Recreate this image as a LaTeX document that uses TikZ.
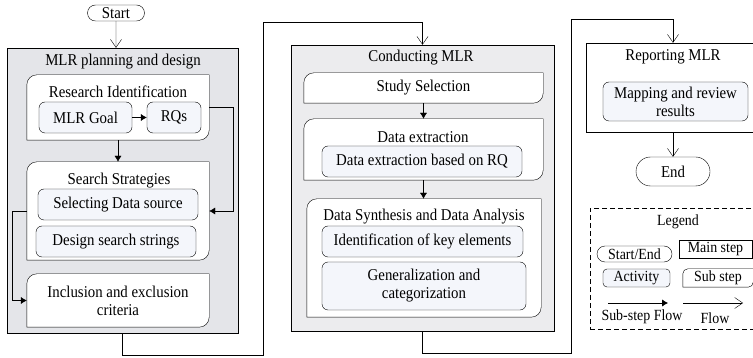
\documentclass[tikz,border=0pt]{standalone}
\usepackage{fontspec}
\setmainfont{Liberation Serif}[FakeStretch=0.9]
\usepackage{tikz}
\usetikzlibrary{shapes.misc}
\usetikzlibrary{arrows.meta}
\pgfdeclarelayer{bg}
\pgfsetlayers{bg,main}
\definecolor{planfill}{RGB}{228,229,233}
\definecolor{condfill}{RGB}{236,236,238}
\definecolor{actfill}{RGB}{244,246,251}

\begin{document}
\begin{tikzpicture}[x=1pt,y=1pt,line width=1.1pt,
  every node/.style={font=\fontsize{16.5}{18}\selectfont,inner sep=0pt,align=center},
  legfont/.style={font=\fontsize{15.5}{17}\selectfont},
  term/.style={rounded rectangle,draw},
  mainstep/.style={rectangle,draw},
  substep/.style={rectangle},
  act/.style={rectangle,rounded corners=6pt,draw,fill=actfill},
  flow/.style={-{Straight Barb[length=8pt,width=11pt]}},
  subflow/.style={-{Latex[length=6pt,width=7pt]}}]
\useasboundingbox (0,0) rectangle (753,-358);
% main steps
\begin{pgfonlayer}{bg}
\node[mainstep,fill=planfill,minimum width=231pt,minimum height=285pt] (plan) at (122.5,-190.5) {};
\node[mainstep,fill=condfill,minimum width=263pt,minimum height=286pt] (conduct) at (422.5,-188) {};
\node[mainstep,fill=white,minimum width=174pt,minimum height=89pt] (report) at (673,-87.5) {};
\node[draw,dash pattern=on 5pt off 3pt,minimum width=176pt,minimum height=121pt] (legend) at (678,-268.5) {};
\end{pgfonlayer}
\node (plantitle) at (123,-62) {MLR planning and design};
\node (condtitle) at (421,-58) {Conducting MLR};
\node (reporttitle) at (673,-57) {Reporting MLR};
\node[term,minimum width=57pt,minimum height=16pt] (start) at (116,-13) {Start};
\node[term,minimum width=74pt,minimum height=29pt] (end) at (673,-171.5) {End};
% sub steps
\node[substep,minimum width=182pt,minimum height=65pt] (resid) at (118,-107.5) {};
\node[substep,minimum width=182pt,minimum height=98pt] (search) at (118,-211) {};
\node[substep,minimum width=182pt,minimum height=53pt] (incl) at (118,-300.5) {Inclusion and exclusion\\criteria};
\node[substep,minimum width=239pt,minimum height=30pt] (studysel) at (423.5,-88) {Study Selection};
\node[substep,minimum width=239pt,minimum height=61pt] (dataext) at (423.5,-149.5) {};
\node[substep,minimum width=234pt,minimum height=118pt] (datasyn) at (424,-258) {};
\node (residtitle) at (118,-92) {Research Identification};
\node (searchtitle) at (119,-181) {Search Strategies};
\node (dataexttitle) at (423,-137) {Data extraction};
\node (datasyntitle) at (424,-217) {Data Synthesis and Data Analysis};
% activities
\node[act,minimum width=93pt,minimum height=31pt] (goal) at (85.5,-117.5) {MLR Goal};
\node[act,minimum width=54pt,minimum height=31pt] (rqs) at (174,-117.5) {RQs};
\node[act,minimum width=160pt,minimum height=31pt] (selds) at (118,-204.5) {Selecting Data source};
\node[act,minimum width=160pt,minimum height=31pt] (design) at (116,-241.5) {Design search strings};
\node[act,minimum width=200pt,minimum height=31pt] (dataq) at (422,-161.5) {Data extraction based on RQ};
\node[act,minimum width=201pt,minimum height=31pt] (keyel) at (422.5,-241.5) {Identification of key elements};
\node[act,minimum width=204pt,minimum height=48pt] (gencat) at (424,-286) {Generalization and\\categorization};
\node[act,minimum width=145pt,minimum height=39pt] (mapres) at (675.5,-101.5) {Mapping and review\\results};
% legend
\node[legfont] (legtitle) at (678,-222) {Legend};
\node[term,legfont,minimum width=75pt,minimum height=16pt] (legterm) at (634.5,-254) {Start/End};
\node[mainstep,legfont,fill=white,minimum width=73pt,minimum height=18pt] (legmain) at (715.5,-249) {Main step};
\node[act,legfont,rounded corners=4pt,minimum width=67pt,minimum height=18pt] (legact) at (636.5,-278) {Activity};
\node[substep,legfont,minimum width=70pt,minimum height=18pt] (legsub) at (718,-278) {Sub step};
\coordinate (legsfa) at (608,-303);
\coordinate (legsfb) at (668,-303);
\coordinate (legfa) at (683,-303);
\coordinate (legfb) at (743,-303);
\node[legfont] (legsftext) at (642,-317) {Sub-step Flow};
\node[legfont] (legftext) at (715,-318) {Flow};
% sub step outlines
\begin{pgfonlayer}{bg}
\foreach \s/\r in {resid/10,search/10,incl/10,studysel/10,dataext/10,datasyn/10,legsub/5}
  \draw[fill=white] (\s.north east) -- ([xshift=\r pt]\s.north west)
    arc[start angle=90,end angle=180,radius=\r pt] -- (\s.south west)
    -- ([xshift=-\r pt]\s.south east) arc[start angle=270,end angle=360,radius=\r pt] -- cycle;
\end{pgfonlayer}
% connectors
\draw[flow] (start) -- (start |- plan.north);
\draw[subflow] (goal) -- (rqs);
\draw[subflow] (resid) -- (search);
\draw[subflow] (resid.east) -- ++(24,0) |- (search.east);
\draw[subflow] (search.west) -- ++(-15,0) |- (incl.west);
\draw[flow] (plan.south) -- ++(0,-22) -- ++(141,0) -- ++(0,333) -| (conduct.north);
\draw[subflow] (studysel) -- (dataext);
\draw[subflow] (dataext.south) -- (dataext.south |- datasyn.north);
\draw[flow] (conduct.south) -- ++(0,-22) -- ++(149,0) -- ++(0,334) -| (report.north);
\draw[flow] (report) -- (end);
\draw[subflow] (legsfa) -- (legsfb);
\draw[flow] (legfa) -- (legfb);
\end{tikzpicture}
\end{document}
